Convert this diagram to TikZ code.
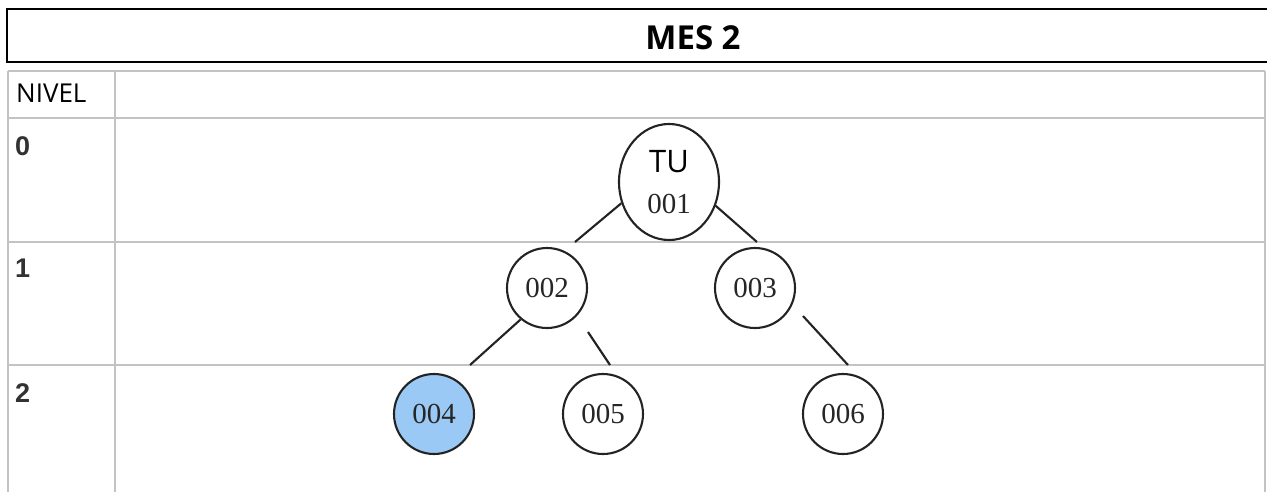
\documentclass[tikz,border=0pt]{standalone}
\usepackage{fontspec}
\setmainfont{Liberation Serif}
\newfontfamily\osans{Open Sans}
\newfontfamily\lsans{Liberation Sans}
\usetikzlibrary{shapes.geometric}
\definecolor{gridgray}{RGB}{195,195,195}
\definecolor{inkgray}{RGB}{35,35,35}
\definecolor{digitgray}{RGB}{50,50,50}
\definecolor{lightblue}{RGB}{155,201,245}
\tikzset{
  gridline/.style={draw=gridgray, line width=2.2pt},
  treenode/.style={circle, draw=inkgray, line width=2.1pt, minimum size=80pt, inner sep=0pt,
    font=\fontsize{29}{31}\selectfont, text=black!85},
  rootnode/.style={ellipse, draw=inkgray, line width=2.1pt, minimum width=100pt, minimum height=116pt, inner sep=0pt},
  edge/.style={draw=inkgray, line width=2.1pt},
  levellabel/.style={anchor=base west, inner sep=0pt, font=\lsans\bfseries\fontsize{27}{29}\selectfont, text=digitgray},
}
\begin{document}
\begin{tikzpicture}[x=1pt, y=-1pt]
\useasboundingbox (0,0) rectangle (1267,491);
\clip (0,0) rectangle (1267,491);
\fill[white] (0,0) rectangle (1267,491);
% title box
\draw[black, line width=2.6pt] (7,9) rectangle (1290,62);
\node[anchor=base, inner sep=0pt, font=\osans\bfseries\fontsize{33}{35}\selectfont] (title) at (693,49) {MES 2};
% table grid
\draw[gridline] (8,71) -- (1265,71);
\draw[gridline] (8,71) -- (8,500);
\draw[gridline] (1265,71) -- (1265,500);
\draw[gridline] (115,71) -- (115,500);
\draw[gridline] (8,118) -- (1265,118);
\draw[gridline] (8,242) -- (1265,242);
\draw[gridline] (8,365) -- (1265,365);
% level labels
\node[anchor=base west, inner sep=0pt, font=\osans\fontsize{26}{28}\selectfont] (nivel) at (16,102) {NIVEL};
\node[levellabel] (lv0) at (15,155) {0};
\node[levellabel] (lv1) at (15,277) {1};
\node[levellabel] (lv2) at (15,402) {2};
% tree nodes
\node[rootnode] (n001) at (669,182) {};
\node[fill=white, inner sep=0pt, minimum width=74pt, minimum height=30pt, font=\osans\fontsize{31}{33}\selectfont] (tu) at (669,162) {TU};
\node[inner sep=0pt, font=\fontsize{29}{31}\selectfont, text=black!85] (l001) at (669,204) {001};
\node[treenode] (n002) at (547,288) {002};
\node[treenode] (n003) at (755,288) {003};
\node[treenode, fill=lightblue] (n004) at (434,414) {004};
\node[treenode] (n005) at (603,414) {005};
\node[treenode] (n006) at (843,414) {006};
% connector free ends
\coordinate (e12) at (575,242);
\coordinate (e13) at (757,242);
\coordinate (e24) at (470,365);
\coordinate (s25) at (588,332);
\coordinate (e25) at (610,365);
\coordinate (s36) at (803,316);
\coordinate (e36) at (848,365);
% connectors
\draw[edge] (n001.204) -- (e12);
\draw[edge] (n001.333) -- (e13);
\draw[edge] (n002.230) -- (e24);
\draw[edge] (s25) -- (e25);
\draw[edge] (s36) -- (e36);
\end{tikzpicture}
\end{document}
